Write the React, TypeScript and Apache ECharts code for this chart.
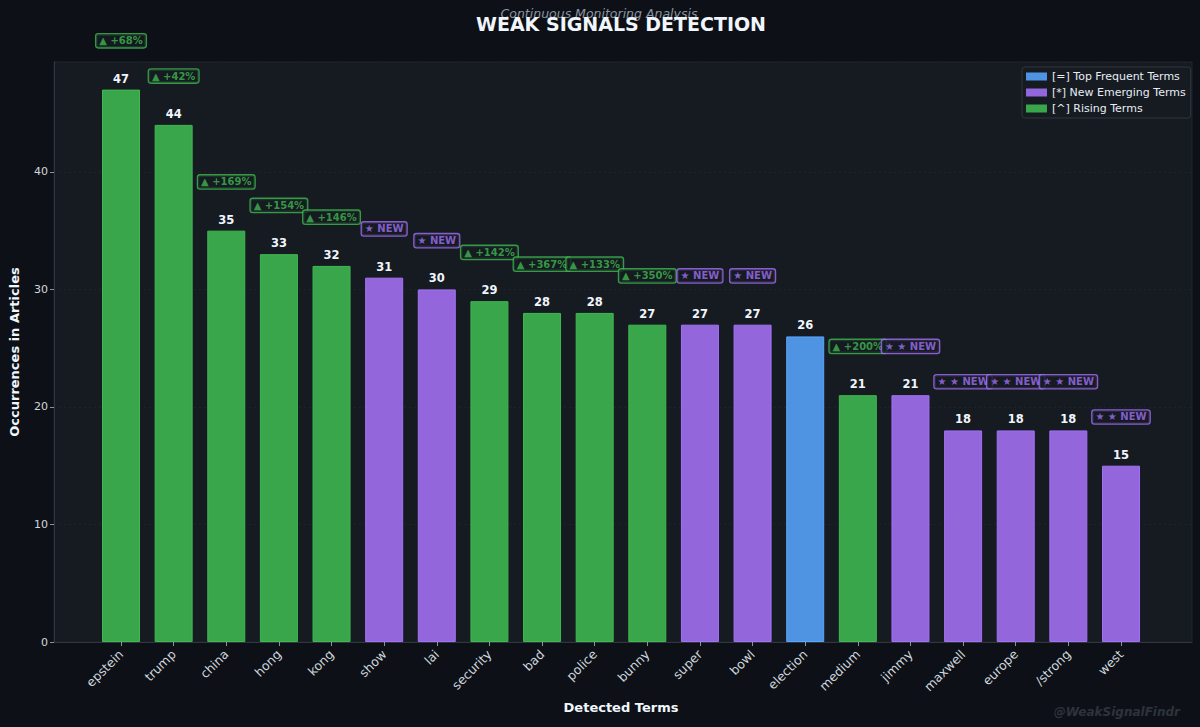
import React, { useEffect, useRef } from "react";
import * as echarts from "echarts";

// Detected terms and their occurrence counts
const terms = [
  "epstein", "trump", "china", "hong", "kong", "show", "lai", "security", "bad", "police",
  "bunny", "super", "bowl", "election", "medium", "jimmy", "maxwell", "europe", "/strong", "west",
];
const counts = [47, 44, 35, 33, 32, 31, 30, 29, 28, 28, 27, 27, 27, 26, 21, 21, 18, 18, 18, 15];
// r = rising, n = new emerging, t = top frequent
const kinds = ["r", "r", "r", "r", "r", "n", "n", "r", "r", "r", "r", "n", "n", "t", "r", "n", "n", "n", "n", "n"];
const badges = [
  "▲ +68%", "▲ +42%", "▲ +169%", "▲ +154%", "▲ +146%", "★ NEW", "★ NEW", "▲ +142%", "▲ +367%", "▲ +133%",
  "▲ +350%", "★ NEW", "★ NEW", "", "▲ +200%", "★ ★ NEW", "★ ★ NEW", "★ ★ NEW", "★ ★ NEW", "★ ★ NEW",
];
const legendNames = ["[=] Top Frequent Terms", "[*] New Emerging Terms", "[^] Rising Terms"];

const COLORS: Record<string, { fill: string; edge: string; text: string }> = {
  t: { fill: "#4f94e3", edge: "#58a6ff", text: "#58a6ff" },
  n: { fill: "#9366dc", edge: "#a371f7", text: "#a371f7" },
  r: { fill: "#3aa64b", edge: "#3fb950", text: "#3fb950" },
};

const FONT = "DejaVu Sans, Verdana, sans-serif";
const Y_MAX = 49.35;
const BADGE_OFFSET = 4.15;

export default function App() {
  const ref = useRef<HTMLDivElement>(null);

  useEffect(() => {
    document.body.style.margin = "0";
    document.body.style.background = "#0d1117";
    const chart = echarts.init(ref.current!, null, { renderer: "svg" });

    const barData = counts.map((v, i) => ({
      value: v,
      itemStyle: { color: COLORS[kinds[i]].fill, borderColor: COLORS[kinds[i]].edge, borderWidth: 1 },
    }));

    const badgeData = badges
      .map((b, i) => ({ b, i }))
      .filter((d) => d.b !== "")
      .map(({ b, i }) => {
        const c = COLORS[kinds[i]];
        return {
          name: b,
          value: [i, counts[i] + BADGE_OFFSET],
          label: {
            color: c.text,
            borderColor: c.edge,
          },
        };
      });

    chart.setOption({
      animation: false,
      backgroundColor: "#0d1117",
      textStyle: { fontFamily: FONT },
      grid: [
        {
          left: 51, top: 62, width: 1141, height: 580,
          show: true, backgroundColor: "#161b22", borderColor: "#21262d", borderWidth: 1,
        },
        { left: 94.7, top: 62, width: 1052.6, height: 580 },
      ],
      xAxis: [
        {
          type: "value", gridIndex: 0, min: 0, max: 1,
          axisLine: { show: true, lineStyle: { color: "#30363d" } },
          axisTick: { show: false }, axisLabel: { show: false }, splitLine: { show: false },
        },
        {
          type: "category", gridIndex: 1, data: terms,
          axisLine: { show: false },
          axisTick: { show: true, alignWithLabel: true, length: 4, lineStyle: { color: "#8b949e" } },
          axisLabel: { rotate: 45, color: "#d0d7de", fontSize: 12.5, margin: 10, fontFamily: FONT, interval: 0 },
          splitLine: { show: false },
        },
      ],
      yAxis: [
        {
          type: "value", gridIndex: 0, min: 0, max: Y_MAX, interval: 10,
          axisLine: { show: true, lineStyle: { color: "#30363d" } },
          axisTick: { show: true, length: 4, lineStyle: { color: "#8b949e" } },
          axisLabel: { color: "#d0d7de", fontSize: 11, margin: 6, showMaxLabel: false, fontFamily: FONT },
          splitLine: { show: true, lineStyle: { color: "#1f252d", type: [2, 3], width: 0.8 } },
          name: "Occurrences in Articles", nameLocation: "middle", nameGap: 33,
          nameTextStyle: { color: "#f0f6fc", fontSize: 13, fontWeight: "bold", fontFamily: FONT },
        },
        { type: "value", gridIndex: 1, min: 0, max: Y_MAX, show: false },
      ],
      legend: {
        orient: "vertical", left: 1022, top: 67,
        backgroundColor: "#161b22", borderColor: "#30363d", borderWidth: 1, borderRadius: 3,
        padding: [4, 5, 4, 4], itemGap: 5, itemWidth: 21, itemHeight: 8,
        textStyle: { color: "#e6edf3", fontSize: 11, fontFamily: FONT },
        data: [
          { name: legendNames[0], icon: "rect" },
          { name: legendNames[1], icon: "rect" },
          { name: legendNames[2], icon: "rect" },
        ],
      },
      series: [
        {
          type: "bar", xAxisIndex: 1, yAxisIndex: 1, barWidth: 38, data: barData,
          label: {
            show: true, position: "top", distance: 5, color: "#f0f6fc",
            fontSize: 11.5, fontWeight: "bold", fontFamily: FONT,
          },
        },
        {
          type: "scatter", xAxisIndex: 1, yAxisIndex: 1, symbolSize: 0, clip: false, data: badgeData,
          label: {
            show: true, position: "inside", formatter: "{b}",
            fontSize: 10, fontWeight: "bold", fontFamily: FONT,
            backgroundColor: "#161b22", borderWidth: 1.3, borderRadius: 2, padding: [2, 3, 1, 3],
          },
        },
        { name: legendNames[0], type: "line", data: [], color: COLORS.t.fill },
        { name: legendNames[1], type: "line", data: [], color: COLORS.n.fill },
        { name: legendNames[2], type: "line", data: [], color: COLORS.r.fill },
      ],
      graphic: [
        {
          type: "text", x: 599, y: 13,
          style: {
            text: "Continuous Monitoring Analysis", fill: "#8b949e", font: `italic 12.5px ${FONT}`,
            align: "center", verticalAlign: "middle",
          },
        },
        {
          type: "text", x: 621, y: 24,
          style: {
            text: "WEAK SIGNALS DETECTION", fill: "#f0f6fc", font: `bold 19px ${FONT}`,
            align: "center", verticalAlign: "middle",
          },
        },
        {
          type: "text", x: 621, y: 707,
          style: {
            text: "Detected Terms", fill: "#f0f6fc", font: `bold 13px ${FONT}`,
            align: "center", verticalAlign: "middle",
          },
        },
        {
          type: "text", x: 1180, y: 712,
          style: {
            text: "@WeakSignalFindr", fill: "#2d333b", font: `italic bold 12px ${FONT}`,
            align: "right", verticalAlign: "middle",
          },
        },
      ],
    });

    return () => chart.dispose();
  }, []);

  return <div ref={ref} style={{ width: 1200, height: 727 }} />;
}
